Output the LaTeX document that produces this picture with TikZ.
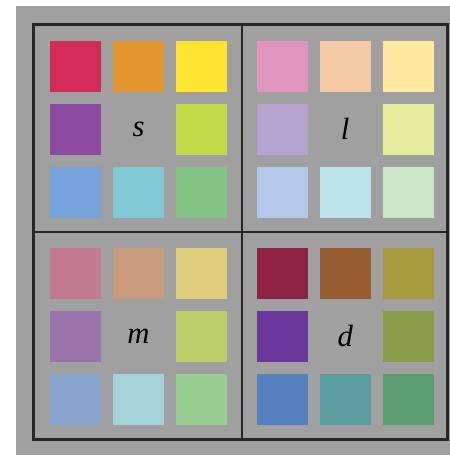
\documentclass[tikz,border=0pt]{standalone}
\usepackage{fontspec}
\setmainfont{Liberation Serif}
\usetikzlibrary{positioning}
\definecolor{panel}{HTML}{A0A0A0}
\definecolor{frame}{HTML}{262626}
% saturated
\definecolor{s1}{HTML}{D22B57}
\definecolor{s2}{HTML}{E3962F}
\definecolor{s3}{HTML}{FDE42E}
\definecolor{s4}{HTML}{8B4A9D}
\definecolor{s6}{HTML}{C2D948}
\definecolor{s7}{HTML}{77A3DD}
\definecolor{s8}{HTML}{80C8D4}
\definecolor{s9}{HTML}{83C486}
% light
\definecolor{l1}{HTML}{E096BC}
\definecolor{l2}{HTML}{F3CAA3}
\definecolor{l3}{HTML}{FDEA9E}
\definecolor{l4}{HTML}{B5A2CE}
\definecolor{l6}{HTML}{E5EC9E}
\definecolor{l7}{HTML}{B5C8EA}
\definecolor{l8}{HTML}{BDE3EA}
\definecolor{l9}{HTML}{CCE6C8}
% medium
\definecolor{m1}{HTML}{C17A90}
\definecolor{m2}{HTML}{C79B7B}
\definecolor{m3}{HTML}{DDCC7A}
\definecolor{m4}{HTML}{9A73AA}
\definecolor{m6}{HTML}{BCCE68}
\definecolor{m7}{HTML}{88A3CE}
\definecolor{m8}{HTML}{A4D3D9}
\definecolor{m9}{HTML}{98CC93}
% dark
\definecolor{d1}{HTML}{8E2243}
\definecolor{d2}{HTML}{955A2E}
\definecolor{d3}{HTML}{A69A3C}
\definecolor{d4}{HTML}{6B369A}
\definecolor{d6}{HTML}{879B48}
\definecolor{d7}{HTML}{5680BD}
\definecolor{d8}{HTML}{599F9F}
\definecolor{d9}{HTML}{5C9D72}

\begin{document}
\begin{tikzpicture}[x=0.75pt, y=-0.75pt,
    swatch/.style={draw=none, minimum size=38.25pt, inner sep=0pt},
    tag/.style={font=\fontsize{23}{23}\selectfont\itshape, inner sep=0pt}]
    \useasboundingbox (0,0) rectangle (450,455);
    \fill[panel] (16,6) rectangle (450,455);

    \coordinate (tl) at (33.5,24.5);
    \coordinate (br) at (447.5,439.5);
    \coordinate (mid) at (242,232);
    \draw[frame, line width=1.9pt] (tl) rectangle (br);
    \draw[frame, line width=1.9pt] (tl -| mid) -- (br -| mid);
    \draw[frame, line width=1.9pt] (tl |- mid) -- (br |- mid);

    \foreach \q/\cx/\cy in {s/138.5/129, l/345.2/129, m/138.5/336.5, d/345.2/336.5}{
        \coordinate (\q c) at (\cx,\cy);
        \node[tag] (\q) at (\q c) {\q};
        \foreach \i/\dx/\dy in {1/-1/-1, 2/0/-1, 3/1/-1, 4/-1/0, 6/1/0, 7/-1/1, 8/0/1, 9/1/1}
            \node[swatch, fill=\q\i] (\q\i) at ([shift={(\dx*63,\dy*63)}]\q c) {};
    }
\end{tikzpicture}
\end{document}
